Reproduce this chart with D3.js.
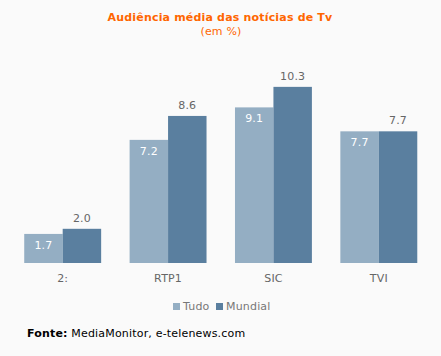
<!DOCTYPE html>
<html><head><meta charset="utf-8">
<script src="https://cdn.jsdelivr.net/npm/d3@7"></script>
<style>body{margin:0;background:#fafafa}svg{display:block}svg text{letter-spacing:0.18px}</style>
</head><body>
<svg id="c" width="441" height="356"></svg>
<script>
const categories = ["2:", "RTP1", "SIC", "TVI"];
const seriesNames = ["Tudo", "Mundial"];
const tudo = [1.7, 7.2, 9.1, 7.7];
const mundial = [2.0, 8.6, 10.3, 7.7];
const colors = ["#94aec3", "#5a7f9f"];

const svg = d3.select("#c");
const font = "Verdana, 'DejaVu Sans', sans-serif";
svg.append("rect").attr("width",441).attr("height",356).attr("fill","#fafafa");

const x = d3.scaleBand().domain(categories).range([10, 431.5]).paddingInner(0.27).paddingOuter(0.135);
const xs = d3.scaleBand().domain(seriesNames).range([0, x.bandwidth()]);
const y = d3.scaleLinear().domain([0, 12]).range([263, 57.8]);

svg.append("text").attr("x",220).attr("y",21).attr("text-anchor","middle")
  .attr("font-family",font).attr("font-size",11).attr("font-weight","bold").attr("fill","#ff6600")
  .text("Audiência média das notícias de Tv");
svg.append("text").attr("x",221).attr("y",35).attr("text-anchor","middle")
  .attr("font-family",font).attr("font-size",11).attr("fill","#ff6600")
  .text("(em %)");

const data = [tudo, mundial];
data.forEach((vals, si) => {
  const g = svg.append("g");
  g.selectAll("rect").data(vals).join("rect")
    .attr("x", (d,i) => x(categories[i]) + xs(seriesNames[si]))
    .attr("y", d => y(d))
    .attr("width", xs.bandwidth())
    .attr("height", d => y(0) - y(d))
    .attr("fill", colors[si]);
  g.selectAll("text").data(vals).join("text")
    .attr("x", (d,i) => x(categories[i]) + xs(seriesNames[si]) + xs.bandwidth()/2)
    .attr("y", d => si === 0 ? y(d) + 15 : y(d) - 7)
    .attr("text-anchor","middle")
    .attr("font-family",font).attr("font-size",11)
    .attr("fill", si === 0 ? "#ffffff" : "#666666")
    .text(d => d.toFixed(1));
});

const xAxis = svg.append("g").attr("transform","translate(0,263)")
  .call(d3.axisBottom(x).tickSize(0).tickPadding(11));
xAxis.select(".domain").remove();
xAxis.selectAll("text").attr("font-family",font).attr("font-size",11).attr("fill","#666666");

const leg = svg.append("g");
const legX = [173, 216];
seriesNames.forEach((n, i) => {
  leg.append("rect").attr("x",legX[i]).attr("y",303).attr("width",7).attr("height",7).attr("fill",colors[i]);
  leg.append("text").attr("x",legX[i]+10).attr("y",310).attr("font-family",font).attr("font-size",11)
    .attr("fill","#777777").text(n);
});

const f = svg.append("text").attr("x",27).attr("y",337).attr("font-family",font).attr("font-size",11).attr("fill","#000");
f.append("tspan").attr("font-weight","bold").text("Fonte:");
f.append("tspan").text(" MediaMonitor, e-telenews.com");
</script>
</body></html>
